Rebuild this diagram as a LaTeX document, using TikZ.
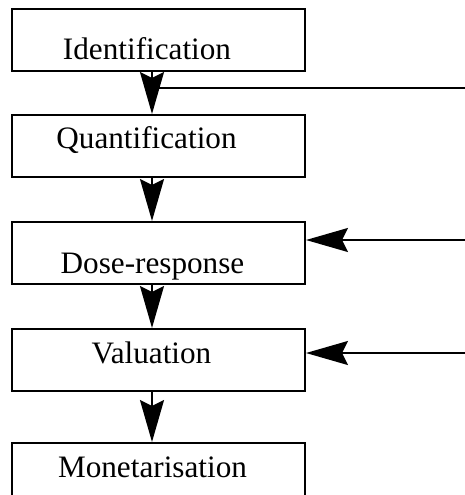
\documentclass[tikz,border=0pt]{standalone}
\usepackage{fontspec}
\setmainfont{Liberation Serif}
\usepackage{tikz}
\usetikzlibrary{arrows.meta,positioning,calc}

\begin{document}
\begin{tikzpicture}[node distance=21pt, >={Stealth[length=21pt,width=12pt,inset=3pt]},
  every node/.style={font=\fontsize{15.6pt}{18pt}\selectfont},
  box/.style={draw, line width=1pt, minimum width=146.5pt, minimum height=31pt, inner sep=0pt},
  lbl/.style={anchor=base, inner sep=0pt},
  flow/.style={line width=1pt}]
\useasboundingbox (0,0) rectangle (232.5pt,-247.5pt);
\node[box] (b1) at (79.25pt,-20pt) {};
\node[box, below=21pt of b1] (b2) {};
\node[box, below=21.5pt of b2] (b3) {};
\node[box, below=21.5pt of b3] (b4) {};
\node[box, below=25pt of b4] (b5) {};
\node[lbl] (t1) at ([xshift=-5.75pt, yshift=-25.5pt]b1.north) {Identification};
\node[lbl] (t2) at ([xshift=-6pt, yshift=-17pt]b2.north) {Quantification};
\node[lbl] (t3) at ([xshift=-3pt, yshift=-26pt]b3.north) {Dose-response};
\node[lbl] (t4) at ([xshift=-3.5pt, yshift=-17.5pt]b4.north) {Valuation};
\node[lbl] (t5) at ([xshift=-3pt, yshift=-17.5pt]b5.north) {Monetarisation};
% outside inputs
\coordinate (in1) at (232.5pt,-44pt);
\coordinate (in2) at (232.5pt,-120pt);
\coordinate (in3) at (232.5pt,-176.5pt);
\draw[flow] (in1) -- (in1 -| b1.south);
\draw[flow, ->] ([xshift=-3.25pt]b1.south) -- ([xshift=-3.25pt]b2.north);
\draw[flow, ->] ([xshift=-3.25pt]b2.south) -- ([xshift=-3.25pt]b3.north);
\draw[flow, ->] ([xshift=-3.25pt]b3.south) -- ([xshift=-3.25pt]b4.north);
\draw[flow, ->] ([xshift=-3.25pt]b4.south) -- ([xshift=-3.25pt]b5.north);
\draw[flow, ->] (in2) -- (in2 -| b3.east);
\draw[flow, ->] (in3) -- (in3 -| b4.east);
\end{tikzpicture}
\end{document}
